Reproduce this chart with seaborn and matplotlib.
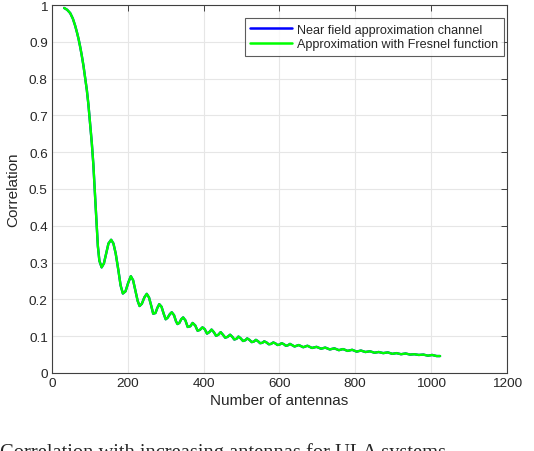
import matplotlib
matplotlib.use("Agg")
import matplotlib.pyplot as plt
import seaborn as sns
import pandas as pd

# values (extrema and points on the flanks)
antennas = [32, 40, 48, 55, 61, 66, 70, 74, 78, 83, 87, 92, 96, 100, 105, 109, 112, 115, 118,
            121, 125, 131, 137, 143, 149, 156, 162, 168, 175, 181, 187, 194, 201, 208, 214,
            220, 226, 231, 237, 244, 250, 256, 262, 267, 273, 278, 283, 289, 295, 300, 305,
            311, 316, 322, 327, 331, 336, 341, 346, 352, 358, 365, 371, 378, 384, 390, 397,
            403, 409, 415, 421, 427, 433, 439, 445, 451, 457, 463, 470, 476, 481, 487, 492,
            498, 504, 510, 515, 521, 527, 532, 538, 544, 549, 555, 560, 566, 572, 578, 584,
            590, 595, 600, 606, 612, 617, 622, 628, 640, 651, 663, 674, 686, 698, 710, 721,
            733, 745, 757, 768, 780, 792, 804, 815, 827, 839, 851, 862, 874, 886, 898, 909,
            921, 933, 945, 956, 968, 980, 992, 1003, 1015, 1024]
near_field = [0.992, 0.987, 0.978, 0.963, 0.944, 0.925, 0.908, 0.888, 0.866, 0.835, 0.806,
              0.768, 0.730, 0.684, 0.625, 0.568, 0.510, 0.455, 0.400, 0.345, 0.305, 0.287,
              0.298, 0.325, 0.352, 0.362, 0.352, 0.325, 0.280, 0.238, 0.216, 0.222, 0.245,
              0.263, 0.252, 0.224, 0.196, 0.182, 0.188, 0.206, 0.215, 0.205, 0.182, 0.161,
              0.163, 0.177, 0.187, 0.180, 0.160, 0.146, 0.150, 0.160, 0.165, 0.157, 0.141,
              0.133, 0.136, 0.146, 0.151, 0.143, 0.125, 0.127, 0.136, 0.129, 0.115, 0.117,
              0.124, 0.119, 0.107, 0.111, 0.118, 0.111, 0.101, 0.104, 0.111, 0.104, 0.096,
              0.098, 0.104, 0.098, 0.091, 0.093, 0.099, 0.094, 0.087, 0.089, 0.094, 0.090,
              0.084, 0.085, 0.090, 0.086, 0.081, 0.082, 0.086, 0.083, 0.078, 0.079, 0.083,
              0.080, 0.076, 0.077, 0.081, 0.078, 0.074, 0.075, 0.079, 0.072, 0.076, 0.070,
              0.074, 0.068, 0.071, 0.066, 0.069, 0.064, 0.067, 0.062, 0.065, 0.060, 0.063,
              0.058, 0.061, 0.057, 0.059, 0.055, 0.057, 0.054, 0.056, 0.052, 0.054, 0.051,
              0.053, 0.050, 0.051, 0.049, 0.050, 0.047, 0.049, 0.046, 0.046]
fresnel = list(near_field)  # the two curves overlap in the picture

labels = ["Near field approximation channel", "Approximation with Fresnel function"]
colors = ["#0000ff", "#00ff00"]

df = pd.concat([
    pd.DataFrame({"N": antennas, "corr": near_field, "series": labels[0]}),
    pd.DataFrame({"N": antennas, "corr": fresnel, "series": labels[1]}),
])

sns.set_style("whitegrid")
plt.rcParams["font.family"] = ["Liberation Sans", "DejaVu Sans"]

fig = plt.figure(figsize=(5.34, 4.52), dpi=100)
ax = fig.add_axes([0.0974, 0.1726, 0.8516, 0.8141])

sns.lineplot(data=df, x="N", y="corr", hue="series", palette=colors,
             linewidth=1.7, sort=False, estimator=None, ax=ax)

ax.set_xlim(0, 1200)
ax.set_ylim(0, 1)
ax.set_xticks(range(0, 1201, 200))
ax.set_yticks([i / 10 for i in range(11)])
ax.set_yticklabels(["0", "0.1", "0.2", "0.3", "0.4", "0.5", "0.6", "0.7", "0.8", "0.9", "1"])

ax.grid(True, color="#e6e6e6", linewidth=0.8)
for s in ax.spines.values():
    s.set_visible(True)
    s.set_color("#404040")
    s.set_linewidth(0.8)
ax.tick_params(direction="in", length=4, width=0.7, colors="#404040",
               labelcolor="#262626", labelsize=9.7, top=True, right=True, pad=3)

ax.set_xlabel("Number of antennas", fontsize=11, color="#262626", labelpad=3)
ax.set_ylabel("Correlation", fontsize=11, color="#262626", labelpad=6)

leg = ax.legend(loc="upper right", fontsize=9.1, frameon=True, fancybox=False,
                handlelength=3.3, borderpad=0.45, labelspacing=0.22,
                handletextpad=0.4, borderaxespad=0.0, bbox_to_anchor=(0.994, 0.965))
leg.get_frame().set_edgecolor("#333333")
leg.get_frame().set_linewidth(0.8)
for line in leg.get_lines():
    line.set_linewidth(1.8)

fig.text(0.0, -0.014, "Correlation with increasing antennas for ULA systems.",
         fontsize=14.8, family="Liberation Serif", va="baseline", ha="left")

fig.savefig("out.png", dpi=100)
